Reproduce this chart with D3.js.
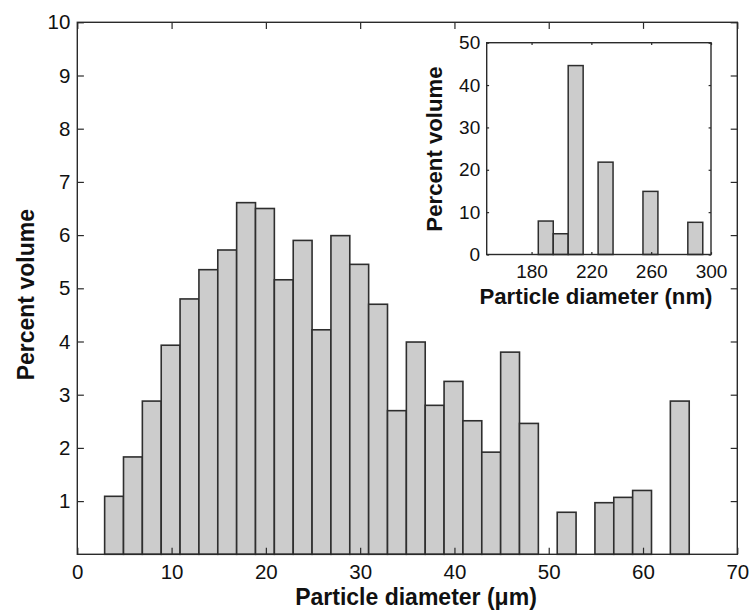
<!DOCTYPE html>
<html>
<head>
<meta charset="utf-8">
<script src="https://cdn.jsdelivr.net/npm/d3@7"></script>
<style>
  html, body { margin: 0; padding: 0; background: #fff; }
  svg { display: block; }
  text { font-family: "Liberation Sans", Arial, sans-serif; fill: #111; }
  .tick text { font-size: 20px; }
  .title { font-weight: bold; }
</style>
</head>
<body>
<svg id="chart" width="751" height="611"></svg>
<script>
// Micrometre-scale size distribution: 2 µm bins (bin centres) and percent volume
const micronBinCenters = [3.9, 5.9, 7.9, 9.9, 11.9, 13.9, 15.9, 17.9, 19.9, 21.9,
  23.9, 25.9, 27.9, 29.9, 31.9, 33.9, 35.9, 37.9, 39.9, 41.9,
  43.9, 45.9, 47.9, 49.9, 51.9, 53.9, 55.9, 57.9, 59.9, 61.9, 63.9];
const micronPercent = [1.09, 1.83, 2.88, 3.93, 4.80, 5.35, 5.72, 6.61, 6.50, 5.16,
  5.90, 4.22, 5.99, 5.45, 4.70, 2.70, 3.99, 2.80, 3.25, 2.51,
  1.92, 3.80, 2.46, 0, 0.79, 0, 0.97, 1.07, 1.20, 0, 2.88];
const micronBinWidth = 2;
const micronXTicks = [0, 10, 20, 30, 40, 50, 60, 70];
const micronYTicks = [1, 2, 3, 4, 5, 6, 7, 8, 9, 10];

// Nanometre-scale population (inset): 10 nm bins
const nanoBinCenters = [189.5, 199.5, 209.5, 229.5, 259.5, 289.5];
const nanoPercent = [7.9, 4.9, 44.6, 21.8, 14.9, 7.6];
const nanoBinWidth = 10;
const nanoXTicks = [180, 220, 260, 300];
const nanoYTicks = [0, 10, 20, 30, 40, 50];

const svg = d3.select("#chart");
const barFill = "#cccccc";
const barStroke = "#2e2e2e";
const axisColor = "#2a2a2a";

function drawPanel(g, opt) {
  const x = d3.scaleLinear().domain(opt.xDomain).range([opt.left, opt.right]);
  const y = d3.scaleLinear().domain(opt.yDomain).range([opt.bottom, opt.top]);

  g.append("rect")
    .attr("x", opt.left).attr("y", opt.top)
    .attr("width", opt.right - opt.left).attr("height", opt.bottom - opt.top)
    .attr("fill", "#fff");

  const bars = opt.centers.map((c, i) => ({ c, v: opt.values[i] })).filter(d => d.v > 0);
  g.append("g").selectAll("rect").data(bars).join("rect")
    .attr("x", d => x(d.c - opt.binWidth / 2))
    .attr("width", d => x(d.c + opt.binWidth / 2) - x(d.c - opt.binWidth / 2))
    .attr("y", d => y(d.v))
    .attr("height", d => y(0) - y(d.v))
    .attr("fill", barFill)
    .attr("stroke", barStroke)
    .attr("stroke-width", opt.barStrokeWidth);

  const ts = opt.tickLen;
  const styleAxis = sel => {
    sel.select(".domain").remove();
    sel.selectAll(".tick line").attr("stroke", axisColor).attr("stroke-width", 1.2);
    sel.selectAll(".tick text").style("font-size", opt.tickFont + "px").attr("fill", "#111");
  };

  g.append("g").attr("transform", `translate(0,${opt.bottom})`)
    .call(d3.axisBottom(x).tickValues(opt.xTicks).tickSize(-ts).tickPadding(opt.xPad).tickFormat(d3.format("d")))
    .call(styleAxis);
  g.append("g").attr("transform", `translate(0,${opt.top})`)
    .call(d3.axisTop(x).tickValues(opt.xTicks).tickSize(-ts).tickFormat(""))
    .call(styleAxis);
  g.append("g").attr("transform", `translate(${opt.left},0)`)
    .call(d3.axisLeft(y).tickValues(opt.yTicks).tickSize(-ts).tickPadding(opt.yPad).tickFormat(d3.format("d")))
    .call(styleAxis);
  g.append("g").attr("transform", `translate(${opt.right},0)`)
    .call(d3.axisRight(y).tickValues(opt.yTicks).tickSize(-ts).tickFormat(""))
    .call(styleAxis);

  g.append("rect")
    .attr("x", opt.left).attr("y", opt.top)
    .attr("width", opt.right - opt.left).attr("height", opt.bottom - opt.top)
    .attr("fill", "none").attr("stroke", axisColor).attr("stroke-width", 1.4);

  g.append("text").attr("class", "title")
    .attr("x", opt.xTitlePos[0]).attr("y", opt.xTitlePos[1])
    .attr("text-anchor", "middle")
    .style("font-size", opt.titleFont + "px")
    .text(opt.xTitle);
  g.append("text").attr("class", "title")
    .attr("transform", `translate(${opt.yTitlePos[0]},${opt.yTitlePos[1]}) rotate(-90)`)
    .attr("text-anchor", "middle")
    .style("font-size", opt.titleFont + "px")
    .text(opt.yTitle);
}

// Main histogram
drawPanel(svg.append("g"), {
  xDomain: [0, 70], yDomain: [0, 10],
  left: 77.3, right: 737.3, top: 22.3, bottom: 554.3,
  centers: micronBinCenters, values: micronPercent, binWidth: micronBinWidth,
  xTicks: micronXTicks, yTicks: micronYTicks,
  tickLen: 6.6, tickFont: 20.5, xPad: 10.5, yPad: 7, barStrokeWidth: 1.6,
  titleFont: 23,
  xTitle: "Particle diameter (\u03bcm)", xTitlePos: [416, 605],
  yTitle: "Percent volume", yTitlePos: [33.5, 294.7]
});

// Inset histogram
drawPanel(svg.append("g"), {
  xDomain: [150, 300], yDomain: [0, 50],
  left: 486.7, right: 711, top: 42.7, bottom: 254.5,
  centers: nanoBinCenters, values: nanoPercent, binWidth: nanoBinWidth,
  xTicks: nanoXTicks, yTicks: nanoYTicks,
  tickLen: 2.4, tickFont: 19, xPad: 10, yPad: 6.5, barStrokeWidth: 1.5,
  titleFont: 22.2,
  xTitle: "Particle diameter (nm)", xTitlePos: [596, 304],
  yTitle: "Percent volume", yTitlePos: [441.5, 149]
});
</script>
</body>
</html>
